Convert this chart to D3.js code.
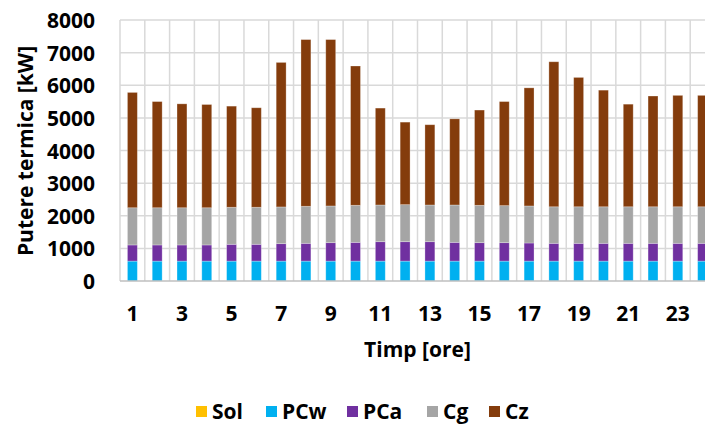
<!DOCTYPE html>
<html>
<head>
<meta charset="utf-8">
<script src="https://cdn.jsdelivr.net/npm/d3@7"></script>
<style>
  html, body { margin: 0; padding: 0; background: #ffffff; }
  svg { display: block; }
  text { font-family: "Open Sans", "Liberation Sans", sans-serif; font-weight: 700; fill: #000; }
</style>
</head>
<body>
<svg id="chart" width="705" height="425"></svg>
<script>
// Hourly thermal power by source [kW]
const hours = [1, 2, 3, 4, 5, 6, 7, 8, 9, 10, 11, 12, 13, 14, 15, 16, 17, 18, 19, 20, 21, 22, 23, 24];
const Sol = [0, 0, 0, 0, 0, 0, 0, 0, 0, 0, 0, 0, 0, 0, 0, 0, 0, 0, 0, 0, 0, 0, 0, 0];
const PCw = [610, 610, 610, 610, 610, 610, 610, 610, 610, 610, 610, 610, 610, 610, 610, 610, 610, 610, 610, 610, 610, 610, 610, 610];
const PCa = [495, 495, 495, 495, 515, 515, 535, 545, 565, 575, 595, 595, 595, 575, 565, 565, 555, 545, 545, 545, 545, 545, 545, 545];
const Cg  = [1140, 1140, 1140, 1140, 1135, 1135, 1125, 1135, 1125, 1135, 1125, 1135, 1125, 1145, 1145, 1135, 1135, 1120, 1120, 1120, 1120, 1120, 1120, 1120];
const Cz  = [3535, 3255, 3185, 3165, 3100, 3050, 4430, 5110, 5100, 4270, 2970, 2530, 2460, 2640, 2920, 3190, 3620, 4445, 3965, 3575, 3145, 3395, 3415, 3415];

const seriesNames = ["Sol", "PCw", "PCa", "Cg", "Cz"];
const seriesColors = ["#FFC000", "#00B0F0", "#7030A0", "#A5A5A5", "#843C0C"];
const yTicks = [0, 1000, 2000, 3000, 4000, 5000, 6000, 7000, 8000];
const xTickLabels = [1, 3, 5, 7, 9, 11, 13, 15, 17, 19, 21, 23];

const seriesValues = { Sol, PCw, PCa, Cg, Cz };
const rows = hours.map((h, i) => {
  const r = { hour: h };
  seriesNames.forEach(k => { r[k] = seriesValues[k][i]; });
  return r;
});

const svg = d3.select("#chart");
const plot = { left: 120, right: 715, top: 20, bottom: 281 };

const x = d3.scaleBand()
  .domain(hours)
  .range([plot.left, plot.right])
  .paddingInner(0.6)
  .paddingOuter(0.3);

const y = d3.scaleLinear()
  .domain([0, 8000])
  .range([plot.bottom, plot.top]);

const color = d3.scaleOrdinal().domain(seriesNames).range(seriesColors);

// Gridlines: horizontal at each tick, vertical between hour categories
const grid = svg.append("g").attr("class", "grid");
grid.selectAll("line.h")
  .data(yTicks.filter(d => d > 0))
  .join("line")
  .attr("class", "h")
  .attr("x1", plot.left).attr("x2", plot.right)
  .attr("y1", d => y(d)).attr("y2", d => y(d))
  .attr("stroke", "#d9d9d9").attr("stroke-width", 1.5);

const step = x.step();
const boundaries = hours.map(h => x(h) - x.paddingOuter() * step).concat([plot.right]);
grid.selectAll("line.v")
  .data(boundaries)
  .join("line")
  .attr("class", "v")
  .attr("x1", d => d).attr("x2", d => d)
  .attr("y1", plot.top).attr("y2", plot.bottom)
  .attr("stroke", "#d9d9d9").attr("stroke-width", 1.5);

// Stacked bars
const stack = d3.stack().keys(seriesNames);
const layers = stack(rows);

svg.append("g").selectAll("g")
  .data(layers)
  .join("g")
  .attr("fill", d => color(d.key))
  .selectAll("rect")
  .data(d => d)
  .join("rect")
  .attr("x", d => x(d.data.hour))
  .attr("width", x.bandwidth())
  .attr("y", d => y(d[1]))
  .attr("height", d => Math.max(0, y(d[0]) - y(d[1])))
  .attr("stroke", "#ffffff")
  .attr("stroke-opacity", 0.35)
  .attr("stroke-width", 0.8);

// Axis baseline
svg.append("line")
  .attr("x1", plot.left).attr("x2", plot.right)
  .attr("y1", plot.bottom).attr("y2", plot.bottom)
  .attr("stroke", "#bfbfbf").attr("stroke-width", 1.5);

// Y axis labels
const yAxis = d3.axisLeft(y).tickValues(yTicks).tickSize(0).tickPadding(0).tickFormat(d3.format("d"));
const gy = svg.append("g").attr("transform", "translate(95,0)").call(yAxis);
gy.select(".domain").remove();
gy.selectAll("text")
  .attr("font-size", 21)
  .attr("font-family", "'Open Sans', sans-serif")
  .attr("font-weight", 700)
  .attr("fill", "#000")
  .attr("dy", "0.36em");

// X axis labels (odd hours)
const xAxis = d3.axisBottom(x).tickValues(xTickLabels).tickSize(0).tickPadding(0);
const gx = svg.append("g").attr("transform", `translate(0,${plot.bottom})`).call(xAxis);
gx.select(".domain").remove();
gx.selectAll("text")
  .attr("font-size", 21)
  .attr("font-family", "'Open Sans', sans-serif")
  .attr("font-weight", 700)
  .attr("fill", "#000")
  .attr("dy", null)
  .attr("y", 40);

// Axis titles
svg.append("text")
  .attr("x", (plot.left + plot.right) / 2)
  .attr("y", 357)
  .attr("text-anchor", "middle")
  .attr("font-size", 21)
  .text("Timp [ore]");

svg.append("text")
  .attr("transform", "translate(33,151) rotate(-90)")
  .attr("text-anchor", "middle")
  .attr("font-size", 21)
  .text("Putere termica [kW]");

// Legend
const legendX = [196, 266, 347, 427, 489];
const legend = svg.append("g").selectAll("g")
  .data(seriesNames)
  .join("g")
  .attr("transform", (d, i) => `translate(${legendX[i]},406)`);
legend.append("rect")
  .attr("width", 11).attr("height", 11)
  .attr("fill", d => color(d));
legend.append("text")
  .attr("x", 16)
  .attr("y", 13)
  .attr("font-size", 21)
  .text(d => d);
</script>
</body>
</html>
